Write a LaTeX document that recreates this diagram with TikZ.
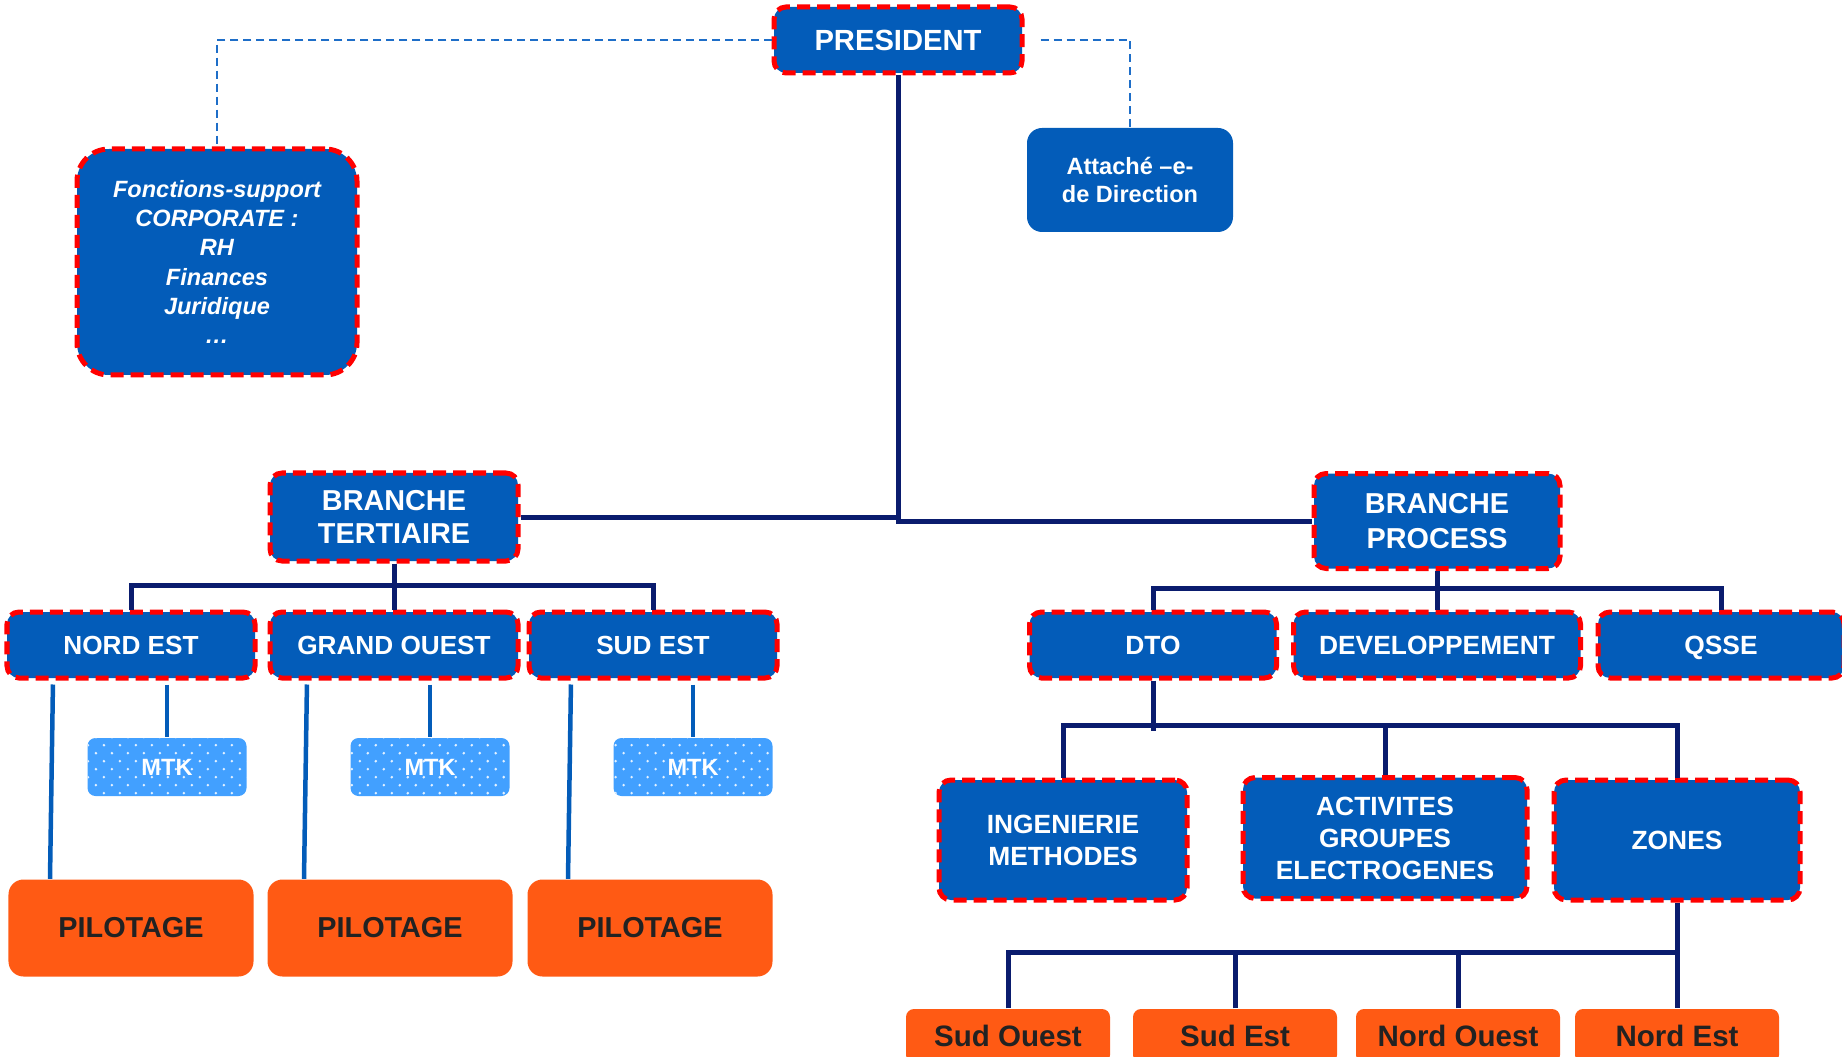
\documentclass[tikz,border=0pt]{standalone}
\usepackage{fontspec}
\setmainfont{Liberation Sans}
\usetikzlibrary{patterns}
\definecolor{boxblue}{RGB}{3,92,185}
\definecolor{linenavy}{RGB}{10,28,110}
\definecolor{linkblue}{RGB}{30,110,200}
\definecolor{mtkblue}{RGB}{66,160,255}
\definecolor{boxorange}{RGB}{255,90,20}
\definecolor{darktext}{RGB}{34,34,34}
\pgfdeclarepatternformonly{mtkdots}{\pgfqpoint{-0.4pt}{-0.4pt}}{\pgfqpoint{4.15pt}{4.15pt}}{\pgfqpoint{4.55pt}{4.55pt}}{%
  \pgfpathcircle{\pgfqpoint{0pt}{0pt}}{0.4pt}%
  \pgfpathcircle{\pgfqpoint{2.275pt}{2.275pt}}{0.4pt}%
  \pgfusepath{fill}%
}
\tikzset{
  redbox/.style={fill=boxblue, draw=red, line width=0.05cm, dash pattern=on 0.13cm off 0.07cm,
    rounded corners=0.12cm, text=white, inner sep=0pt, align=center},
  plainbox/.style={fill=boxblue, rounded corners=0.15cm, text=white, inner sep=0pt, align=center},
  mtkbox/.style={preaction={fill=mtkblue}, pattern=mtkdots, pattern color=white!85!mtkblue,
    rounded corners=0.08cm, text=white, inner sep=0pt, minimum width=1.59cm, minimum height=0.58cm,
    font=\bfseries\fontsize{6.7}{8}\selectfont},
  orangebox/.style={fill=boxorange, rounded corners=0.15cm, text=darktext, inner sep=0pt, align=center},
  trunkline/.style={draw=linenavy, line width=0.05cm},
  dashline/.style={draw=linkblue, line width=0.025cm, dash pattern=on 0.08cm off 0.05cm},
  pilotline/.style={draw=boxblue, line width=0.045cm, shorten <=0.04cm}
}
\begin{document}
\begin{tikzpicture}
            \useasboundingbox (0.000000,0.000000) rectangle (18.420000,-10.570000);
            {\bfseries

            % Marking top of the chart
            \node [redbox, minimum width=2.48cm, minimum height=0.66cm, font=\bfseries\fontsize{8.3}{9.5}\selectfont] (pres) at (8.980000,-0.400000) {PRESIDENT};%
            \node [redbox, rounded corners=0.32cm, minimum width=2.80cm, minimum height=2.26cm, font=\bfseries\itshape\fontsize{6.7}{8.3}\selectfont] (fonc) at (2.170000,-2.620000) {Fonctions-support\\CORPORATE :\\RH\\Finances\\Juridique\\…};%
            \node [plainbox, minimum width=2.06cm, minimum height=1.04cm, font=\bfseries\fontsize{6.7}{8.2}\selectfont] (att) at (11.300000,-1.800000) {Attaché –e-\\de Direction};%

            % Drawing dashed links of the president
            \draw [dashline] (pres.west) -| (fonc.north);%
            \draw [dashline] ([xshift=0.16cm]pres.east) -| (att.north);%

            % Marking the two branches
            \node [redbox, minimum width=2.48cm, minimum height=0.88cm, font=\bfseries\fontsize{8.2}{9.5}\selectfont] (bt) at (3.940000,-5.170000) {BRANCHE\\TERTIAIRE};%
            \node [redbox, minimum width=2.46cm, minimum height=0.95cm, font=\bfseries\fontsize{8.2}{10}\selectfont] (bp) at (14.370000,-5.210000) {BRANCHE\\PROCESS};%

            % Drawing main trunk
            \coordinate (trunk) at (8.980000,-5.210000);%
            \draw [trunkline] (pres.south) -- (trunk) -- (bp.west);%
            \draw [trunkline] (bt.east) -- (bt.east -| trunk);%

            % Marking regions of BRANCHE TERTIAIRE
            \node [redbox, minimum width=2.48cm, minimum height=0.66cm, font=\bfseries\fontsize{7.45}{9}\selectfont] (ne) at (1.310000,-6.450000) {NORD EST};%
            \node [redbox, minimum width=2.48cm, minimum height=0.66cm, font=\bfseries\fontsize{7.45}{9}\selectfont] (go) at (3.940000,-6.450000) {GRAND OUEST};%
            \node [redbox, minimum width=2.48cm, minimum height=0.66cm, font=\bfseries\fontsize{7.45}{9}\selectfont] (se) at (6.530000,-6.450000) {SUD EST};%
            \draw [trunkline] (ne.north) -- ++(0,0.24) -| (se.north);%
            \draw [trunkline] (bt.south) -- (go.north);%

            % Marking MTK boxes
            \node [mtkbox] (mtka) at (1.670000,-7.670000) {MTK};%
            \node [mtkbox] (mtkb) at (4.300000,-7.670000) {MTK};%
            \node [mtkbox] (mtkc) at (6.930000,-7.670000) {MTK};%
            \draw [pilotline] (ne.south -| mtka.north) -- (mtka.north);%
            \draw [pilotline] (go.south -| mtkb.north) -- (mtkb.north);%
            \draw [pilotline] (se.south -| mtkc.north) -- (mtkc.north);%

            % Marking PILOTAGE boxes
            \node [orangebox, minimum width=2.45cm, minimum height=0.97cm, font=\bfseries\fontsize{8.2}{9.5}\selectfont] (pila) at (1.310000,-9.280000) {PILOTAGE};%
            \node [orangebox, minimum width=2.45cm, minimum height=0.97cm, font=\bfseries\fontsize{8.2}{9.5}\selectfont] (pilb) at (3.900000,-9.280000) {PILOTAGE};%
            \node [orangebox, minimum width=2.45cm, minimum height=0.97cm, font=\bfseries\fontsize{8.2}{9.5}\selectfont] (pilc) at (6.500000,-9.280000) {PILOTAGE};%
            \draw [pilotline] ([xshift=-0.78cm]ne.south) -- ([xshift=-0.81cm]pila.north);%
            \draw [pilotline] ([xshift=-0.87cm]go.south) -- ([xshift=-0.86cm]pilb.north);%
            \draw [pilotline] ([xshift=-0.82cm]se.south) -- ([xshift=-0.82cm]pilc.north);%

            % Marking departments of BRANCHE PROCESS
            \node [redbox, minimum width=2.47cm, minimum height=0.66cm, font=\bfseries\fontsize{7.5}{9}\selectfont] (dto) at (11.530000,-6.450000) {DTO};%
            \node [redbox, minimum width=2.87cm, minimum height=0.66cm, font=\bfseries\fontsize{7.5}{9}\selectfont] (dev) at (14.370000,-6.450000) {DEVELOPPEMENT};%
            \node [redbox, minimum width=2.46cm, minimum height=0.66cm, text depth=0pt, font=\bfseries\fontsize{7.5}{9}\selectfont] (qsse) at (17.210000,-6.450000) {QSSE};%
            \draw [trunkline] (dto.north) -- ++(0,0.21) -| (qsse.north);%
            \draw [trunkline] (bp.south) -- (dev.north);%

            % Marking services of DTO
            \node [redbox, minimum width=2.48cm, minimum height=1.20cm, font=\bfseries\fontsize{7.5}{9.1}\selectfont] (ing) at (10.630000,-8.400000) {INGENIERIE\\METHODES};%
            \node [redbox, minimum width=2.84cm, minimum height=1.21cm, font=\bfseries\fontsize{7.5}{9.1}\selectfont] (act) at (13.850000,-8.380000) {ACTIVITES\\GROUPES\\ELECTROGENES};%
            \node [redbox, minimum width=2.46cm, minimum height=1.20cm, font=\bfseries\fontsize{7.5}{9.1}\selectfont] (zon) at (16.770000,-8.400000) {ZONES};%
            \draw [trunkline] (ing.north) -- ++(0,0.52) -| (zon.north);%
            \draw [trunkline] (dto.south) -- ++(0,-0.50);%
            \draw [trunkline] (act.north) -- ++(0,0.49);%

            % Marking zones
            \node [orangebox, rounded corners=0.08cm, minimum width=2.04cm, minimum height=0.54cm, font=\bfseries\fontsize{8.4}{10}\selectfont] (zso) at (10.080000,-10.360000) {Sud Ouest};%
            \node [orangebox, rounded corners=0.08cm, minimum width=2.04cm, minimum height=0.54cm, font=\bfseries\fontsize{8.4}{10}\selectfont] (zse) at (12.350000,-10.360000) {Sud Est};%
            \node [orangebox, rounded corners=0.08cm, minimum width=2.04cm, minimum height=0.54cm, font=\bfseries\fontsize{8.4}{10}\selectfont] (zno) at (14.580000,-10.360000) {Nord Ouest};%
            \node [orangebox, rounded corners=0.08cm, minimum width=2.04cm, minimum height=0.54cm, font=\bfseries\fontsize{8.4}{10}\selectfont] (zne) at (16.770000,-10.360000) {Nord Est};%
            \draw [trunkline] (zso.north) -- ++(0,0.56) -| (zne.north);%
            \draw [trunkline] (zon.south) -- ++(0,-0.53);%
            \draw [trunkline] (zse.north) -- ++(0,0.56);%
            \draw [trunkline] (zno.north) -- ++(0,0.56);%
            }
        \end{tikzpicture}
\end{document}
